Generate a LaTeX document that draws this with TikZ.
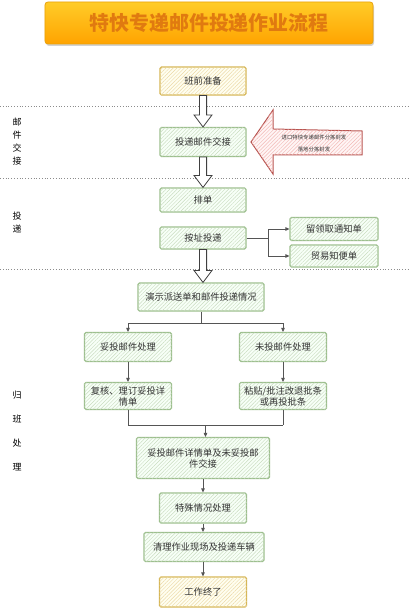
\documentclass[tikz,border=0pt]{standalone}
\usepackage{fontspec}
\setmainfont{Noto Sans CJK SC}
\usetikzlibrary{calc,patterns.meta,shadows,arrows.meta}
\definecolor{ybd}{HTML}{D6B656}
\definecolor{yht}{HTML}{EBD9A6}
\definecolor{gbd}{HTML}{9DBF8E}
\definecolor{ght}{HTML}{C9DCC0}
\definecolor{rbd}{HTML}{B85450}
\definecolor{rht}{HTML}{F2B8B5}
\definecolor{txt}{HTML}{333333}
\definecolor{ttl}{HTML}{E07A10}
\definecolor{lnc}{HTML}{555555}
\tikzset{
  basebox/.style={draw, line width=1.1bp, rounded corners=1.5bp, align=center, text=txt,
    font=\fontsize{9.3}{11}\selectfont, inner sep=1bp},
  ybox/.style={basebox, draw=ybd, fill=yellow!6,
    postaction={pattern={Lines[angle=45,distance=2.6bp,line width=0.45bp]}, pattern color=yht}},
  gbox/.style={basebox, draw=gbd, fill=green!3,
    postaction={pattern={Lines[angle=45,distance=2.6bp,line width=0.45bp]}, pattern color=ght}},
  hollow/.style={draw=black!75, line width=0.8bp, fill=white},
  arr/.style={draw=lnc, line width=0.8bp, -{Triangle[length=4bp,width=3.5bp]}},
  ln/.style={draw=lnc, line width=0.8bp},
  sep/.style={draw=black!45, dotted, line width=0.8bp},
  side/.style={text=black, font=\fontsize{9}{11}\selectfont}
}
\newcommand{\hollowarr}[2]{%
  \path[hollow] let \p1=(#1.south), \p2=(#2.north) in
    (\x1-3.6bp,\y1) -- (\x1-3.6bp,\y2+12bp) -- (\x1-9bp,\y2+12bp) -- (\x1,\y2)
    -- (\x1+9bp,\y2+12bp) -- (\x1+3.6bp,\y2+12bp) -- (\x1+3.6bp,\y1) -- cycle;}
\begin{document}
\begin{tikzpicture}[x=1bp,y=-1bp]
\useasboundingbox[fill=white] (0,0) rectangle (410,609);
% title
\node[draw=ttl!70!yellow, line width=0.8bp, rounded corners=3bp, top color={rgb,255:red,255;green,204;blue,40},
  bottom color={rgb,255:red,255;green,163;blue,0}, minimum width=328bp, minimum height=42bp,
  drop shadow={shadow xshift=1bp, shadow yshift=-2bp, opacity=0.35},
  text=ttl, font=\fontsize{20}{24}\selectfont\bfseries] (title) at (209,23) {特快专递邮件投递作业流程};
% separators
\coordinate (s1a) at (0,106); \coordinate (s1b) at (410,106);
\coordinate (s2a) at (0,178); \coordinate (s2b) at (410,178);
\coordinate (s3a) at (0,269); \coordinate (s3b) at (410,269);
\draw[sep] (s1a) -- (s1b);
\draw[sep] (s2a) -- (s2b);
\draw[sep] (s3a) -- (s3b);
% left labels
\node[side] (lab1a) at (17,122) {邮};
\node[side] (lab1b) at (17,135) {件};
\node[side] (lab1c) at (17,148) {交};
\node[side] (lab1d) at (17,161) {接};
\node[side] (lab2a) at (17,216) {投};
\node[side] (lab2b) at (17,229) {递};
\node[side] (lab3a) at (17,395) {归};
\node[side] (lab3b) at (17,419) {班};
\node[side] (lab3c) at (17,443) {处};
\node[side] (lab3d) at (17,467) {理};
% boxes
\node[ybox, minimum width=86bp, minimum height=28bp] (b1) at (203,81) {班前准备};
\node[gbox, minimum width=86bp, minimum height=29bp] (b2) at (203,142) {投递邮件交接};
\node[gbox, minimum width=86bp, minimum height=24bp] (b3) at (203,200) {排单};
\node[gbox, minimum width=86bp, minimum height=22bp] (b4) at (203,238) {按址投递};
\node[gbox, minimum width=88bp, minimum height=23bp] (s1) at (334,229) {留领取通知单};
\node[gbox, minimum width=88bp, minimum height=22bp] (s2) at (334,256) {贸易知便单};
\node[gbox, minimum width=126bp, minimum height=28bp] (b5) at (201,297) {演示派送单和邮件投递情况};
\node[gbox, minimum width=87bp, minimum height=29bp] (l1) at (128,347) {妥投邮件处理};
\node[gbox, minimum width=87bp, minimum height=29bp] (r1) at (283,347) {未投邮件处理};
\node[gbox, minimum width=87bp, minimum height=27bp] (l2) at (128,396) {复核、理订妥投详\\情单};
\node[gbox, minimum width=87bp, minimum height=27bp] (r2) at (283,396) {粘贴/批注改退批条\\或再投批条};
\node[gbox, minimum width=133bp, minimum height=41bp] (b6) at (203,458) {妥投邮件详情单及未妥投邮\\件交接};
\node[gbox, minimum width=87bp, minimum height=30bp] (b7) at (203,508) {特殊情况处理};
\node[gbox, minimum width=120bp, minimum height=29bp] (b8) at (204,547) {清理作业现场及投递车辆};
\node[ybox, minimum width=87bp, minimum height=30bp] (b9) at (203,592) {工作终了};
% red arrow
\path[draw=rbd, line width=1bp, fill=red!4,
  postaction={pattern={Lines[angle=45,distance=2.6bp,line width=0.45bp]}, pattern color=rht}]
  (251,142) -- (273,110) -- (273,129) -- (362,131) -- (362,155) -- (273,155) -- (273,174) -- cycle;
\node[align=center, text=txt, font=\fontsize{5.4}{12}\selectfont] (rtext) at (314,143) {进口特快专递邮件分拣封发\\落地分拣封发};
% hollow arrows
\hollowarr{b1}{b2}
\hollowarr{b2}{b3}
\hollowarr{b4}{b5}
% thin connectors
\draw[ln] (b4.east) -- ++(22,0) coordinate (j0);
\draw[arr] (j0) |- (s1.west);
\draw[arr] (j0) |- (s2.west);
\draw[ln] (b5.south) -- ++(0,12) coordinate (j1);
\draw[arr] (j1) -| (l1.north);
\draw[arr] (j1) -| (r1.north);
\draw[arr] (l1) -- (l2);
\draw[arr] (r1) -- (r2);
\draw[ln] (l2.south) -- ++(0,15) coordinate (j2);
\draw[ln] (r2.south) -- ++(0,15) coordinate (j3);
\draw[ln] (j2) -- (j3);
\coordinate (j4) at ($(j2)!0.5!(j3)$);
\draw[arr] (j4) -- (b6.north -| j4);
\draw[arr] (b6) -- (b7);
\draw[arr] (b7) -- (b8.north -| b7);
\draw[arr] (b8.south -| b9) -- (b9);
\end{tikzpicture}
\end{document}
